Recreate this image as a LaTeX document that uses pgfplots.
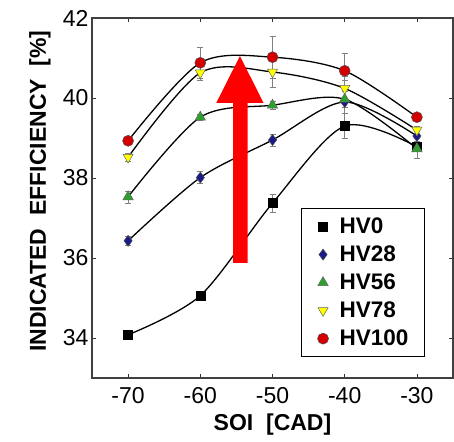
\documentclass[border=0pt]{standalone}
\usepackage{pgfplots}
\pgfplotsset{compat=1.18}
\usepackage{pgfplotstable}
\usepackage{fontspec}
\setmainfont{Liberation Sans}
\definecolor{hvblue}{HTML}{1A1A8A}
\definecolor{hvgreen}{HTML}{2EA02E}
\definecolor{hvyellow}{HTML}{FFFF00}
\definecolor{hvred}{HTML}{D40000}
\definecolor{arrowred}{HTML}{FF0000}

\pgfplotstableread{
x y e
-70 34.08 0.12
-60 35.06 0.12
-50 37.37 0.22
-40 39.30 0.32
-30 38.78 0.28
}\hvzero
\pgfplotstableread{
x y e
-70 36.43 0.12
-60 38.01 0.15
-50 38.95 0.15
-40 39.90 0.55
-30 39.05 0.12
}\hvtwentyeight
\pgfplotstableread{
x y e
-70 37.53 0.15
-60 39.52 0.08
-50 39.82 0.10
-40 39.97 0.20
-30 38.73 0.25
}\hvfiftysix
\pgfplotstableread{
x y e
-70 38.52 0.10
-60 40.63 0.20
-50 40.65 0.38
-40 40.24 0.30
-30 39.20 0.10
}\hvseventyeight
\pgfplotstableread{
x y e
-70 38.93 0.08
-60 40.88 0.38
-50 41.02 0.53
-40 40.68 0.44
-30 39.52 0.10
}\hvhundred

\begin{document}
\begin{tikzpicture}
\begin{axis}[
  scale only axis, width=361pt, height=360pt,
  xmin=-75, xmax=-25, ymin=33, ymax=42,
  xtick={-70,-60,-50,-40,-30}, ytick={34,36,38,40,42},
  tick align=inside, tick pos=both, major tick length=4pt,
  tick style={line width=0.8pt, color=black!80},
  axis line style={line width=1.2pt, color=black!75},
  ticklabel style={font=\fontsize{23}{26}\selectfont},
  /pgf/number format/assume math mode=true,
  xticklabel style={yshift=-6pt},
  xlabel={SOI\ \ [CAD]},
  ylabel={INDICATED\ \ EFFICIENCY\ \ [\%]},
  label style={font=\fontsize{23}{26}\selectfont\bfseries},
  xlabel style={at={(axis description cs:0.5,0)}, anchor=center, yshift=-47pt},
  ylabel style={at={(axis description cs:0,0.519)}, anchor=center, yshift=52pt},
  legend style={at={(rel axis cs:0.922,0.058)}, anchor=south east,
    draw=black, line width=1pt, inner xsep=16pt, inner ysep=9pt,
    font=\fontsize{22.5}{24}\selectfont\bfseries,
    nodes={inner sep=0pt, text height=16pt, text depth=2pt},
    row sep=10pt, column sep=11pt},
  legend cell align=left,
  every axis plot/.append style={line width=1.3pt},
  err/.style={only marks, error bars/.cd, y dir=both, y explicit,
    error bar style={color=gray, line width=0.6pt},
    error mark options={rotate=90, mark size=3pt, color=gray, line width=0.6pt},
    /pgfplots/.cd},
]
\coordinate (SW) at (rel axis cs:0,0);
\coordinate (NE) at (rel axis cs:1,1);
% smooth lines
\addplot[black, smooth, forget plot] table[x=x,y=y] {\hvzero};
\addplot[black, smooth, forget plot] table[x=x,y=y] {\hvtwentyeight};
\addplot[black, smooth, forget plot] table[x=x,y=y] {\hvfiftysix};
\addplot[black, smooth, forget plot] table[x=x,y=y] {\hvseventyeight};
\addplot[black, smooth, forget plot] table[x=x,y=y] {\hvhundred};
% arrow
\fill[arrowred] (axis cs:-55.46,35.88) -- (axis cs:-55.46,39.88) -- (axis cs:-57.78,39.88)
  -- (axis cs:-54.51,41.05) -- (axis cs:-51.25,39.88) -- (axis cs:-53.43,39.88)
  -- (axis cs:-53.43,35.88) -- cycle;
% markers with error bars
\addplot[err, mark=square*, mark size=4.5pt, mark options={fill=black, draw=black, line width=0.5pt}]
  table[x=x,y=y,y error=e] {\hvzero};
\addlegendentry{HV0}
\addplot[err, mark=diamond*, mark size=5.5pt, mark options={fill=hvblue, draw=black!70, line width=0.5pt}]
  table[x=x,y=y,y error=e] {\hvtwentyeight};
\addlegendentry{HV28}
\addplot[err, mark=triangle*, mark size=6pt, mark options={fill=hvgreen, draw=black!60, line width=0.5pt}]
  table[x=x,y=y,y error=e] {\hvfiftysix};
\addlegendentry{HV56}
\addplot[err, mark=triangle*, mark size=5.8pt, mark options={rotate=180, fill=hvyellow, draw=black!60, line width=0.5pt}]
  table[x=x,y=y,y error=e] {\hvseventyeight};
\addlegendentry{HV78}
\addplot[err, mark=*, mark size=5.5pt, mark options={fill=hvred, draw=black!70, line width=0.5pt}]
  table[x=x,y=y,y error=e] {\hvhundred};
\addlegendentry{HV100}
\end{axis}
\pgfresetboundingbox
\path ([shift={(-92pt,-63pt)}]SW) rectangle ([shift={(1pt,18pt)}]NE);
\end{tikzpicture}
\end{document}
